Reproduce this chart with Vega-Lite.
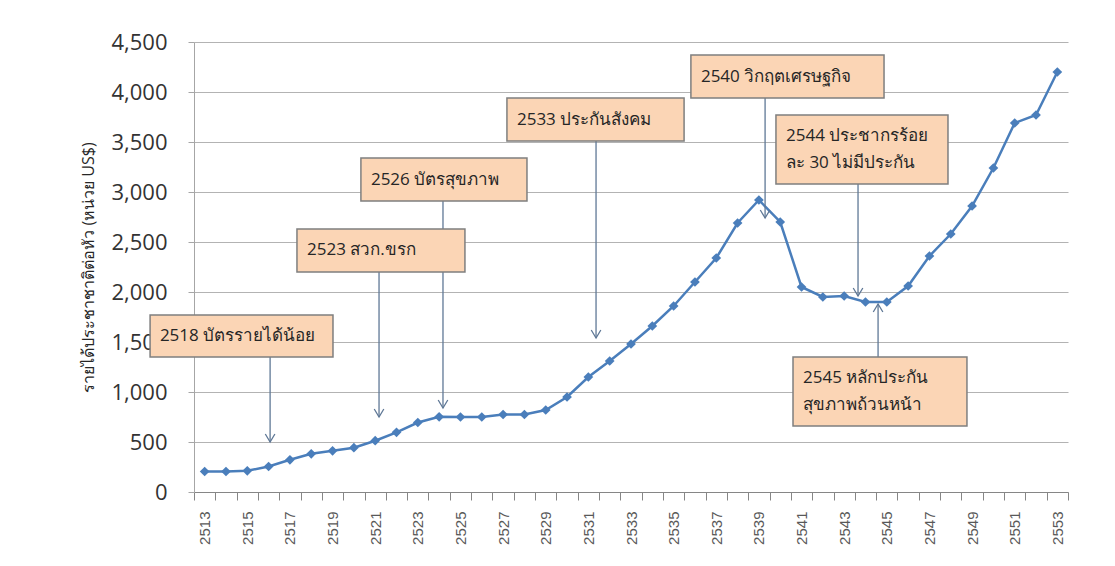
{
  "$schema": "https://vega.github.io/schema/vega-lite/v6.json",
  "autosize": "none",
  "width": 874,
  "height": 450,
  "padding": {"left": 194, "top": 42, "right": 47, "bottom": 74},
  "background": "white",
  "config": {
    "font": "Open Sans",
    "view": {"stroke": null}
  },
  "datasets": {
    "gdp": [
      {"year": 2513, "value": 205}, {"year": 2514, "value": 205}, {"year": 2515, "value": 212},
      {"year": 2516, "value": 255}, {"year": 2517, "value": 322}, {"year": 2518, "value": 382},
      {"year": 2519, "value": 412}, {"year": 2520, "value": 443}, {"year": 2521, "value": 513},
      {"year": 2522, "value": 597}, {"year": 2523, "value": 695}, {"year": 2524, "value": 752},
      {"year": 2525, "value": 750}, {"year": 2526, "value": 750}, {"year": 2527, "value": 775},
      {"year": 2528, "value": 775}, {"year": 2529, "value": 820}, {"year": 2530, "value": 950},
      {"year": 2531, "value": 1150}, {"year": 2532, "value": 1310}, {"year": 2533, "value": 1480},
      {"year": 2534, "value": 1660}, {"year": 2535, "value": 1860}, {"year": 2536, "value": 2100},
      {"year": 2537, "value": 2340}, {"year": 2538, "value": 2690}, {"year": 2539, "value": 2920},
      {"year": 2540, "value": 2700}, {"year": 2541, "value": 2050}, {"year": 2542, "value": 1950},
      {"year": 2543, "value": 1960}, {"year": 2544, "value": 1900}, {"year": 2545, "value": 1900},
      {"year": 2546, "value": 2060}, {"year": 2547, "value": 2360}, {"year": 2548, "value": 2580},
      {"year": 2549, "value": 2860}, {"year": 2550, "value": 3240}, {"year": 2551, "value": 3690},
      {"year": 2552, "value": 3770}, {"year": 2553, "value": 4200}
    ],
    "boxes": [
      {"year": 2510.44, "year2": 2519.02, "value": 1770, "value2": 1350},
      {"year": 2517.33, "year2": 2525.21, "value": 2630, "value2": 2200},
      {"year": 2520.33, "year2": 2528.12, "value": 3340, "value2": 2910},
      {"year": 2527.18, "year2": 2535.49, "value": 3940, "value2": 3510},
      {"year": 2535.81, "year2": 2544.87, "value": 4370, "value2": 3940},
      {"year": 2539.8, "year2": 2547.87, "value": 3770, "value2": 3080},
      {"year": 2540.6, "year2": 2548.76, "value": 1350, "value2": 660}
    ],
    "labels": [
      {"year": 2510.9, "value": 1560, "label": "2518 บัตรรายได้น้อย"},
      {"year": 2517.8, "value": 2420, "label": "2523 สวก.ขรก"},
      {"year": 2520.8, "value": 3120, "label": "2526 บัตรสุขภาพ"},
      {"year": 2527.65, "value": 3720, "label": "2533 ประกันสังคม"},
      {"year": 2536.28, "value": 4150, "label": "2540 วิกฤตเศรษฐกิจ"},
      {"year": 2540.27, "value": 3560, "label": "2544 ประชากรร้อย"},
      {"year": 2540.27, "value": 3290, "label": "ละ 30 ไม่มีประกัน"},
      {"year": 2541.07, "value": 1140, "label": "2545 หลักประกัน"},
      {"year": 2541.07, "value": 870, "label": "สุขภาพถ้วนหน้า"}
    ],
    "arrows": [
      {"year": 2516.07, "value": 1350, "value2": 500, "dir": "down"},
      {"year": 2521.18, "value": 2200, "value2": 750, "dir": "down"},
      {"year": 2524.18, "value": 2910, "value2": 840, "dir": "down"},
      {"year": 2531.36, "value": 3510, "value2": 1540, "dir": "down"},
      {"year": 2539.29, "value": 3940, "value2": 2740, "dir": "down"},
      {"year": 2543.65, "value": 3080, "value2": 1960, "dir": "down"},
      {"year": 2544.59, "value": 1350, "value2": 1880, "dir": "up"}
    ]
  },
  "encoding": {
    "x": {
      "field": "year",
      "type": "quantitative",
      "scale": {"domain": [2512.5, 2553.5], "nice": false, "zero": false},
      "axis": {
        "title": null,
        "grid": false,
        "zindex": 0,
        "values": [2512.5, 2513, 2513.5, 2514, 2514.5, 2515, 2515.5, 2516, 2516.5, 2517, 2517.5, 2518, 2518.5, 2519, 2519.5, 2520, 2520.5, 2521, 2521.5, 2522, 2522.5, 2523, 2523.5, 2524, 2524.5, 2525, 2525.5, 2526, 2526.5, 2527, 2527.5, 2528, 2528.5, 2529, 2529.5, 2530, 2530.5, 2531, 2531.5, 2532, 2532.5, 2533, 2533.5, 2534, 2534.5, 2535, 2535.5, 2536, 2536.5, 2537, 2537.5, 2538, 2538.5, 2539, 2539.5, 2540, 2540.5, 2541, 2541.5, 2542, 2542.5, 2543, 2543.5, 2544, 2544.5, 2545, 2545.5, 2546, 2546.5, 2547, 2547.5, 2548, 2548.5, 2549, 2549.5, 2550, 2550.5, 2551, 2551.5, 2552, 2552.5, 2553, 2553.5],
        "format": ".1f",
        "labelExpr": "datum.value % 2 == 1 ? substring(datum.label, 0, 4) : ''",
        "labelOverlap": false,
        "labelAngle": -90,
        "labelAlign": "right",
        "labelBaseline": "middle",
        "labelFontSize": 15,
        "labelColor": "#595959",
        "labelFont": "Liberation Sans Narrow, Liberation Sans",
        "labelPadding": 11,
        "tickSize": 8,
        "tickColor": "#868686",
        "tickOpacity": {"expr": "datum.value % 1 == 0 ? 0 : 1"},
        "domainColor": "#868686",
        "domainWidth": 1
      }
    },
    "y": {
      "field": "value",
      "type": "quantitative",
      "scale": {"domain": [0, 4500], "nice": false},
      "axis": {
        "title": "รายได้ประชาชาติต่อหัว (หน่วย US$)",
        "titleFontSize": 16,
        "titleFontWeight": "normal",
        "titleColor": "#262626",
        "titlePadding": 14,
        "zindex": 0,
        "values": [0, 500, 1000, 1500, 2000, 2500, 3000, 3500, 4000, 4500],
        "format": ",d",
        "labelFontSize": 22,
        "labelColor": "#333333",
        "labelPadding": 21,
        "tickSize": 6,
        "tickColor": "#a6a6a6",
        "domainColor": "#a6a6a6",
        "gridColor": "#b3b3b3",
        "gridWidth": 1
      }
    }
  },
  "layer": [
    {
      "data": {"name": "gdp"},
      "mark": {"type": "line", "color": "#4a7ebb", "strokeWidth": 2.5},
      "encoding": {}
    },
    {
      "data": {"name": "gdp"},
      "mark": {"type": "point", "shape": "diamond", "filled": true, "color": "#4a7ebb", "size": 95, "opacity": 1},
      "encoding": {}
    },
    {
      "data": {"name": "arrows"},
      "mark": {"type": "rule", "color": "#5f7896", "strokeWidth": 1.3},
      "encoding": {"y2": {"field": "value2"}}
    },
    {
      "data": {"name": "arrows"},
      "mark": {"type": "point", "filled": false, "color": "#5f7896", "strokeWidth": 1.3, "size": 256, "opacity": 1},
      "encoding": {
        "y": {"field": "value2", "type": "quantitative"},
        "shape": {
          "field": "dir",
          "type": "nominal",
          "scale": {"domain": ["down", "up"], "range": ["M-0.6,-1L0,0L0.6,-1", "M-0.6,1L0,0L0.6,1"]},
          "legend": null
        }
      }
    },
    {
      "data": {"name": "boxes"},
      "mark": {"type": "rect", "fill": "#fbd5b5", "stroke": "#7f7f7f", "strokeWidth": 1.5},
      "encoding": {"x2": {"field": "year2"}, "y2": {"field": "value2"}}
    },
    {
      "data": {"name": "labels"},
      "mark": {"type": "text", "align": "left", "baseline": "middle", "fontSize": 17, "color": "#262626", "font": "Open Sans"},
      "encoding": {"text": {"field": "label"}}
    }
  ]
}
